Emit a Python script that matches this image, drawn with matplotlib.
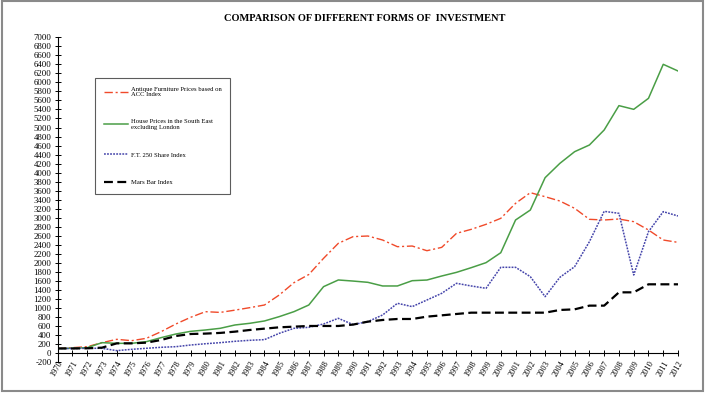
import matplotlib
matplotlib.use("Agg")
import matplotlib.pyplot as plt
from matplotlib.patches import Rectangle

years = list(range(1970, 2013))

antique = [100, 118, 140, 229, 303, 273, 325, 473, 643, 791, 916,
           900, 950, 1005, 1064, 1286, 1560, 1740, 2099, 2432, 2580,
           2594, 2505, 2357, 2372, 2268, 2342, 2653, 2742, 2853, 2986,
           3318, 3555, 3466, 3370, 3208, 2964, 2949, 2971, 2912, 2727,
           2505, 2453]
house = [100, 104, 118, 229, 214, 214, 251, 340, 421, 480, 510,
         547, 621, 658, 710, 806, 917, 1064, 1471, 1619, 1595,
         1567, 1486, 1486, 1603, 1618, 1707, 1788, 1892, 2003, 2224,
         2949, 3170, 3887, 4205, 4464, 4612, 4945, 5485, 5403, 5647,
         6401, 6253]
ftse = [100, 100, 104, 104, 52, 81, 104, 126, 140, 177, 205,
        229, 259, 281, 296, 436, 547, 569, 643, 769, 630,
        695, 843, 1102, 1028, 1175, 1323, 1545, 1486, 1434, 1900,
        1900, 1693, 1249, 1678, 1914, 2468, 3141, 3097, 1730, 2690,
        3134, 3038]
marsbar = [100, 100, 104, 118, 214, 214, 229, 288, 377, 421, 430,
           445, 473, 510, 540, 569, 584, 599, 599, 599, 630,
           695, 732, 754, 754, 806, 835, 865, 894, 894, 894,
           894, 894, 894, 954, 968, 1050, 1050, 1345, 1345, 1523,
           1523, 1523]

labels = ["Antique Furniture Prices based on\nACC Index",
          "House Prices in the South East\nexcluding London",
          "F.T. 250 Share Index",
          "Mars Bar Index"]
yticks = list(range(-200, 7001, 200))

serif = ["Liberation Serif", "DejaVu Serif"]

fig = plt.figure(figsize=(7.09, 3.94), dpi=100)
fig.patches.append(Rectangle((2/709, 1 - 391/394), 701/709, 390/394,
                             transform=fig.transFigure, fill=False,
                             edgecolor="#8a8a8a", linewidth=1.5))
ax = fig.add_axes([0.0814, 0.0812, 0.8749, 0.8241])

ax.plot(years, antique, color="#F04A2A", linestyle=(0, (6, 2, 1.5, 2)), linewidth=1.0, label=labels[0])
ax.plot(years, house, color="#4A9E46", linestyle="-", linewidth=1.1, label=labels[1])
ax.plot(years, ftse, color="#4444AA", linestyle=(0, (1.2, 0.8)), linewidth=1.1, label=labels[2])
ax.plot(years, marsbar, color="black", linestyle=(0, (4, 2)), linewidth=1.6, label=labels[3])

ax.set_xlim(1970, 2012)
ax.set_ylim(-200, 7000)
ax.spines["top"].set_visible(False)
ax.spines["right"].set_visible(False)
ax.spines["bottom"].set_position(("data", 0))
ax.spines["left"].set_linewidth(0.8)
ax.spines["bottom"].set_linewidth(0.8)

ax.set_yticks(yticks)
ax.set_yticklabels([str(v) for v in yticks], fontsize=6.3, family=serif)
ax.set_xticks(years)
ax.set_xticklabels([str(y) for y in years], fontsize=6.0, family=serif,
                   rotation=60, ha="right", rotation_mode="anchor")
ax.tick_params(axis="both", direction="inout", length=5, width=0.7, pad=2)

leg = ax.legend(loc="upper left", bbox_to_anchor=(0.060, 0.875), prop={"family": serif, "size": 4.8},
                frameon=True, fancybox=False, edgecolor="#333333", labelspacing=3.3,
                handlelength=3.6, borderpad=1.3, handletextpad=0.5, borderaxespad=0)
leg.get_frame().set_linewidth(0.8)

fig.text(0.515, 0.953, "COMPARISON OF DIFFERENT FORMS OF  INVESTMENT", ha="center", va="center",
         fontsize=7.5, fontweight="bold", family=serif)

fig.savefig("out.png", dpi=100)
